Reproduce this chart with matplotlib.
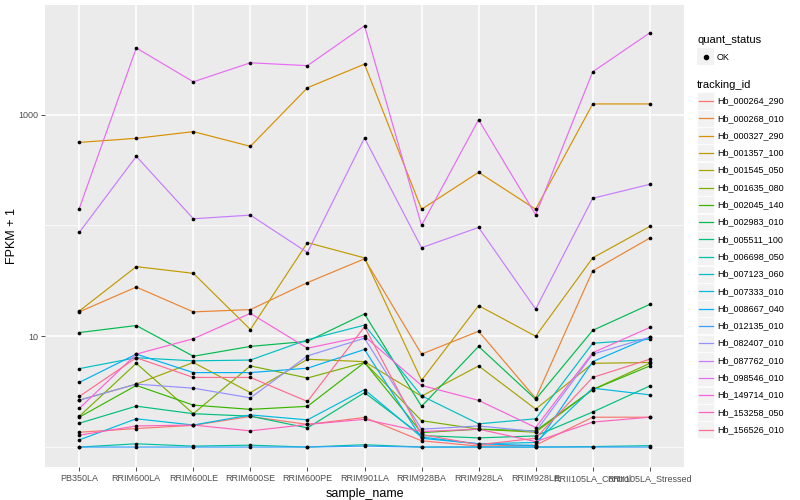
import numpy as np
import matplotlib
matplotlib.use("Agg")
import matplotlib.pyplot as plt
from matplotlib.lines import Line2D
from matplotlib.patches import Rectangle
from matplotlib.ticker import FixedLocator, NullFormatter

plt.rcParams['font.family'] = ['Liberation Sans', 'DejaVu Sans']

samples = ['PB350LA', 'RRIM600LA', 'RRIM600LE', 'RRIM600SE', 'RRIM600PE', 'RRIM901LA',
           'RRIM928BA', 'RRIM928LA', 'RRIM928LE', 'RRII105LA_Control', 'RRII105LA_Stressed']

tracking_ids = ['Hb_000264_290', 'Hb_000268_010', 'Hb_000327_290', 'Hb_001357_100',
                'Hb_001545_050', 'Hb_001635_080', 'Hb_002045_140', 'Hb_002983_010',
                'Hb_005511_100', 'Hb_006698_050', 'Hb_007123_060', 'Hb_007333_010',
                'Hb_008667_040', 'Hb_012135_010', 'Hb_082407_010', 'Hb_087762_010',
                'Hb_098546_010', 'Hb_149714_010', 'Hb_153258_050', 'Hb_156526_010']

# FPKM + 1 per gene, one value per sample
fpkm = {
    'Hb_000264_290': [1.36, 1.47, 1.57, 1.89, 1.6, 1.85, 1.14, 1.02, 1.04, 1.86, 1.86],
    'Hb_000268_010': [16.6, 27.8, 16.6, 17.4, 30.5, 50, 6.9, 11.1, 2.75, 39, 77],
    'Hb_000327_290': [562, 612, 703, 518, 1750, 2860, 140, 302, 140, 1250, 1250],
    'Hb_001357_100': [16.9, 42.5, 37, 11.5, 70, 51, 4.0, 18.9, 10, 51, 98],
    'Hb_001545_050': [2.65, 3.7, 5.8, 3.1, 6.2, 5.9, 2.88, 5.4, 2.2, 5.7, 5.8],
    'Hb_001635_080': [1.89, 5.7, 2.0, 5.4, 4.2, 5.8, 1.73, 1.45, 1.36, 3.3, 5.7],
    'Hb_002045_140': [1.86, 3.6, 2.39, 2.19, 2.33, 5.8, 1.35, 1.45, 1.4, 3.3, 5.4],
    'Hb_002983_010': [10.8, 12.5, 6.6, 8.1, 9.0, 15.9, 2.33, 8.1, 2.7, 11.3, 19.4],
    'Hb_005511_100': [1.64, 2.34, 2.0, 1.9, 1.49, 3.1, 1.27, 1.21, 1.26, 2.07, 3.56],
    'Hb_006698_050': [1.0, 1.07, 1.02, 1.04, 1.0, 1.05, 1.0, 1.0, 1.0, 1.01, 1.03],
    'Hb_007123_060': [5.1, 6.4, 6.0, 6.1, 9.3, 12.6, 2.9, 1.62, 1.8, 8.65, 9.4],
    'Hb_007333_010': [1.16, 1.8, 1.58, 1.95, 1.76, 3.3, 1.23, 1.07, 1.1, 3.4, 2.96],
    'Hb_008667_040': [3.83, 6.9, 4.7, 4.7, 5.15, 7.6, 1.2, 1.07, 1.03, 5.9, 9.8],
    'Hb_012135_010': [1.0, 1.0, 1.0, 1.0, 1.0, 1.02, 1.0, 1.0, 1.0, 1.0, 1.0],
    'Hb_082407_010': [2.65, 3.7, 3.4, 2.78, 6.65, 9.6, 1.45, 1.55, 1.38, 6.9, 9.8],
    'Hb_087762_010': [86.5, 421, 115, 124, 57, 616, 63, 96, 17.6, 176, 235],
    'Hb_098546_010': [142, 4000, 1980, 2940, 2770, 6340, 100, 900, 125, 2440, 5470],
    'Hb_149714_010': [2.23, 6.9, 9.5, 16.1, 7.8, 10, 3.6, 2.64, 1.5, 7.1, 12],
    'Hb_153258_050': [1.28, 1.55, 1.58, 1.40, 1.6, 1.78, 1.38, 1.45, 1.12, 1.68, 1.86],
    'Hb_156526_010': [2.86, 6.4, 4.25, 4.25, 2.58, 12.2, 1.3, 1.05, 1.2, 4.25, 6.2],
}

# ggplot default hue palette, 20 levels
colores = ['#F8766D', '#EA8331', '#D89000', '#C09B00', '#A3A500', '#7CAE00', '#39B600',
           '#00BB4E', '#00BF7D', '#00C1A3', '#00BFC4', '#00BAE0', '#00B0F6', '#35A2FF',
           '#9590FF', '#C77CFF', '#E76BF3', '#FA62DB', '#FF62BC', '#FF6C91']

W, H = 800, 500
fig = plt.figure(figsize=(8, 5), dpi=100)
ax = fig.add_axes([45 / W, 1 - 467 / H, (684 - 45) / W, (467 - 5) / H])
ax.set_facecolor('#EBEBEB')

x = np.arange(len(samples))
for i, tid in enumerate(tracking_ids):
    ax.plot(x, fpkm[tid], color=colores[i], linewidth=0.85, zorder=3)
for tid in tracking_ids:
    ax.scatter(x, fpkm[tid], color='black', s=7, zorder=4, linewidths=0)

ax.set_yscale('log')
ax.set_ylim(10 ** -0.18, 10 ** 3.99)
ax.set_xlim(-0.6, len(samples) - 0.4)
ax.yaxis.set_major_locator(FixedLocator([10, 1000]))
ax.yaxis.set_minor_locator(FixedLocator([1, 100, 10000]))
ax.yaxis.set_minor_formatter(NullFormatter())
ax.set_yticklabels(['10', '1000'])
ax.set_xticks(x)
ax.set_xticklabels(samples)

ax.grid(True, which='major', color='white', linewidth=1.1, zorder=0)
ax.grid(True, which='minor', axis='y', color='white', linewidth=0.5, zorder=0)
ax.set_axisbelow(True)
for s in ax.spines.values():
    s.set_visible(False)
ax.tick_params(which='major', length=3, width=0.6, color='#333333', labelsize=6.5,
               labelcolor='#4D4D4D', pad=2)
ax.tick_params(which='minor', length=0)

ax.set_xlabel('sample_name', fontsize=9)
ax.xaxis.set_label_coords(0.5, -0.045)
ax.set_ylabel('FPKM + 1', fontsize=9)
ax.yaxis.set_label_coords(-0.043, 0.5)

# legends, drawn by hand in pixel positions
def fy(py):
    return 1 - py / H

fig.text(697 / W, fy(40), 'quant_status', fontsize=8, va='center', ha='left')
fig.add_artist(Rectangle((697 / W, fy(65)), 17 / W, 16.5 / H, transform=fig.transFigure,
                         facecolor='#F2F2F2', edgecolor='none'))
fig.add_artist(Line2D([705.5 / W], [fy(57)], marker='o', markersize=3, color='black',
                      linestyle='none', transform=fig.transFigure))
fig.text(717 / W, fy(57), 'OK', fontsize=6.5, va='center', ha='left')

fig.text(697 / W, fy(85), 'tracking_id', fontsize=8, va='center', ha='left')
for i, tid in enumerate(tracking_ids):
    yc = 101 + 17.3 * i
    fig.add_artist(Rectangle((697 / W, fy(yc + 8.5)), 17 / W, 17 / H, transform=fig.transFigure,
                             facecolor='#F2F2F2', edgecolor='white', linewidth=0.5))
    fig.add_artist(Line2D([698.5 / W, 712.5 / W], [fy(yc), fy(yc)], color=colores[i],
                          linewidth=0.9, transform=fig.transFigure))
    fig.text(717 / W, fy(yc), tid, fontsize=6.5, va='center', ha='left')

fig.savefig('out.png', dpi=100)
